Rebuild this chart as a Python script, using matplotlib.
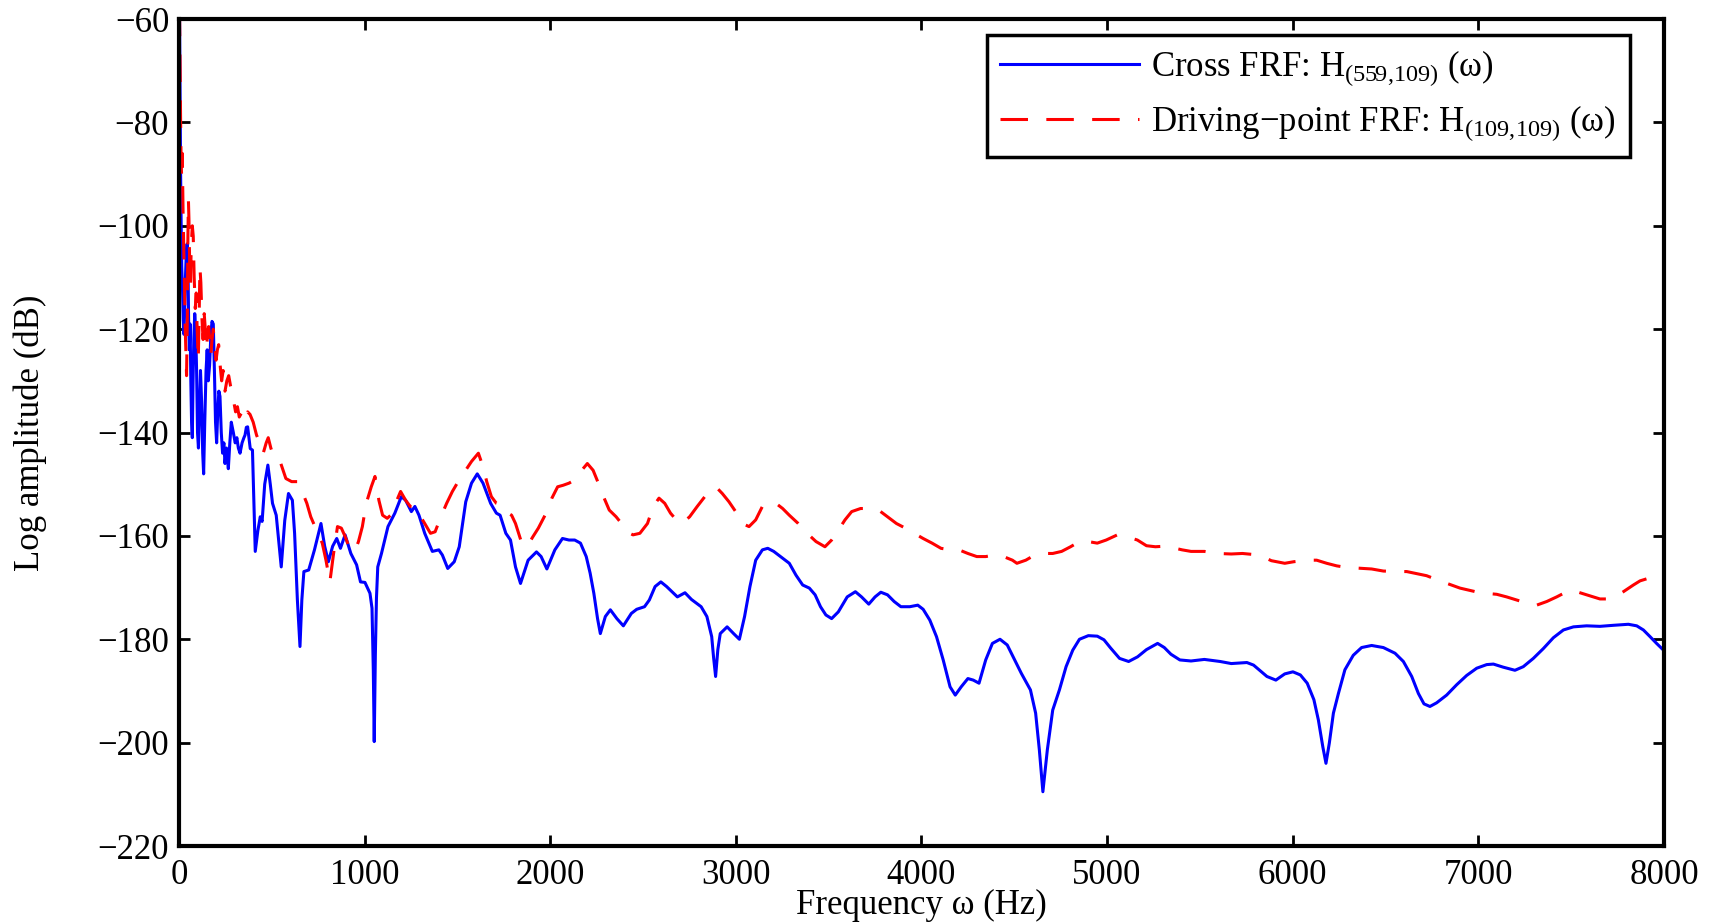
import numpy as np
import matplotlib
matplotlib.use("Agg")
import matplotlib.pyplot as plt

plt.rcParams['font.family'] = ['Liberation Serif', 'DejaVu Serif']
plt.rcParams['mathtext.fontset'] = 'custom'
plt.rcParams['mathtext.rm'] = 'Liberation Serif'
plt.rcParams['mathtext.it'] = 'Liberation Serif:italic'

# cross FRF H(559,109): frequency (Hz), log amplitude (dB)
cross_f = [3, 6, 9, 12, 15, 19, 23, 27, 31, 35, 40, 44, 48, 52, 56, 60, 64, 68, 72, 76,
           80, 85, 90, 95, 100, 105, 110, 116, 122, 128, 133, 139, 146, 152, 158, 165,
           172, 178, 185, 191, 197, 203, 209, 215, 221, 228, 235, 242, 248, 256, 266,
           274, 282, 293, 303, 312, 320, 329, 340, 350, 356, 363, 370, 384, 396, 411,
           425, 438, 448, 462, 479, 492, 504, 524,
           540, 551, 570, 590, 611, 623, 638, 652, 662, 673, 699, 730, 765, 785, 805, 828,
           850, 870, 895, 926, 957, 978, 1002, 1029, 1040, 1047, 1052, 1058, 1064, 1071,
           1091, 1126, 1163, 1198, 1221, 1252, 1271, 1293, 1324, 1365, 1400, 1419, 1448,
           1483, 1510, 1545, 1576, 1607, 1638, 1679, 1710, 1730, 1761, 1786, 1813, 1840,
           1881, 1926, 1951, 1982, 2025, 2066, 2101, 2132, 2163, 2194, 2215, 2235, 2255,
           2270, 2297, 2324, 2359, 2394, 2437, 2466, 2508, 2534, 2565, 2596, 2627, 2685,
           2726, 2761, 2813, 2844, 2870, 2880, 2891, 2903, 2916, 2953, 2988, 3019, 3047,
           3076, 3107, 3143, 3172, 3204, 3252, 3288, 3324, 3360, 3396, 3427, 3456, 3485,
           3516, 3552, 3600, 3644, 3677, 3716, 3750, 3781, 3817, 3853, 3889, 3937, 3980,
           4009, 4045, 4081, 4117, 4154, 4182, 4214, 4250, 4279, 4310, 4346, 4382, 4423,
           4462, 4502, 4538, 4587, 4615, 4635, 4654, 4678, 4707, 4743, 4779, 4815, 4851,
           4899, 4947, 4983, 5019, 5067, 5116, 5164, 5212, 5272, 5308, 5344, 5392, 5452,
           5524, 5609, 5669, 5753, 5789, 5825, 5861, 5909, 5957, 6001, 6041, 6078, 6114,
           6138, 6162, 6179, 6197, 6219, 6246, 6281, 6326, 6371, 6425, 6488, 6551, 6596,
           6641, 6677, 6707, 6739, 6775, 6829, 6883, 6937, 6991, 7045, 7081, 7134, 7197,
           7242, 7296, 7350, 7404, 7458, 7512, 7583, 7655, 7727, 7808, 7853, 7889, 7925,
           7960, 8000]
cross_db = [-58, -75, -90, -100, -108, -112, -118, -121, -116, -110, -105, -103.5, -106,
            -118, -124, -119, -130, -138, -141, -130, -122, -117, -120, -128, -140, -143,
            -136, -128, -134, -144, -148, -138, -128, -124, -130, -127, -121, -118.5, -119,
            -128, -138, -142, -136, -132, -133, -140, -144, -142, -146, -143, -147, -142,
            -138, -140, -142, -141, -143, -144, -142, -141, -140.5, -139, -138.9, -143.1,
            -143.4, -163.0, -159, -156.3, -157.2, -150, -146.3, -150, -153.7, -156.0,
            -162, -166.0, -157, -151.8, -153.1, -159.5, -172.4, -181.4, -172.4, -166.9,
            -166.6, -162.7, -157.6, -162, -165.0, -162, -160.5, -162.4, -159.8, -163.4,
            -165.6, -168.9, -169.0, -171.1, -174, -186, -199.8, -183, -172, -166.0, -163.4,
            -158.2, -155.6, -152.4, -153.1, -155.3, -154.3, -156.0, -159.5, -163.0, -162.7,
            -163.7, -166.3, -165.0, -162.1, -153.4, -149.8, -148.0, -149.8, -153.7, -155.6,
            -156.0, -159.5, -160.8, -166.0, -169.2, -164.7, -163.1, -164.0, -166.4, -162.7,
            -160.5, -160.8, -160.8, -161.4, -164.0, -167.2, -171.1, -176.0, -178.9, -175.6,
            -174.3, -176.0, -177.4, -175.0, -174.2, -173.7, -172.4, -169.8, -168.9, -169.8,
            -171.8, -171.0, -172.3, -173.7, -175.6, -179.5, -183.5, -187.2, -182, -178.9,
            -177.6, -178.9, -180.0, -175.6, -169.8, -164.7, -162.7, -162.4, -163.0, -164.3,
            -165.3, -167.6, -169.5, -170.1, -171.4, -173.7, -175.3, -176.0, -174.7, -171.8,
            -170.8, -171.8, -173.2, -171.8, -170.9, -171.4, -172.7, -173.7, -173.7, -173.4,
            -174.2, -176.3, -179.5, -184.0, -189.2, -190.8, -189.2, -187.6, -187.9, -188.5,
            -184.0, -180.8, -180.0, -181.1, -184.0, -186.6, -189.8, -194.3, -201.4, -209.5,
            -201.4, -193.7, -189.8, -185.3, -182.1, -180.0, -179.3, -179.4, -180.1, -181.7,
            -183.7, -184.3, -183.4, -182.0, -180.8, -181.6, -182.9, -184.0, -184.2, -183.9,
            -184.3, -184.7, -184.5, -185.0, -186.1, -187.2, -187.9, -186.7, -186.3, -186.9,
            -188.5, -191.7, -195.6, -200.8, -204.0, -200.1, -194.3, -190.5, -185.9, -183.1,
            -181.6, -181.2, -181.6, -182.7, -184.3, -187.2, -190.5, -192.5, -193.0, -192.3,
            -190.8, -188.8, -187.0, -185.6, -184.9, -184.8, -185.4, -186.0, -185.3, -183.7,
            -181.8, -179.7, -178.2, -177.6, -177.4, -177.5, -177.3, -177.1, -177.4, -178.2,
            -179.5, -180.8, -182.2]

# driving-point FRF H(109,109)
drive_f = [3, 6, 9, 12, 15, 18, 22, 26, 30, 34, 38, 41, 45, 48, 51, 54, 58, 62, 66, 72,
           77, 82, 88, 93, 98, 104, 109, 113, 118, 124, 130, 136, 142, 148, 154, 160, 166,
           172, 178, 185, 192, 200, 207, 214, 222, 230, 238, 248, 258, 268, 278, 286, 295,
           305, 315, 325, 340, 355, 370, 383, 400, 418, 435, 454, 470, 481, 495, 514,
           545, 576, 607, 638, 668, 689, 710, 741, 772,
           792, 813, 833, 854, 875, 895, 916, 947, 967, 988, 1009, 1036, 1056, 1077, 1097,
           1122, 1153, 1174, 1194, 1221, 1246, 1271, 1297, 1324, 1355, 1380, 1411, 1442,
           1473, 1504, 1539, 1576, 1613, 1638, 1658, 1683, 1710, 1736, 1761, 1792, 1813,
           1844, 1875, 1906, 1936, 1978, 2009, 2040, 2070, 2101, 2132, 2163, 2200, 2231,
           2256, 2287, 2318, 2355, 2384, 2411, 2446, 2483, 2524, 2555, 2586, 2617, 2648,
           2679, 2710, 2751, 2792, 2833, 2864, 2895, 2927, 2963, 2999, 3035, 3071, 3107,
           3143, 3180, 3216, 3252, 3288, 3336, 3384, 3432, 3480, 3516, 3552, 3588, 3624,
           3672, 3721, 3769, 3817, 3865, 3913, 3961, 4009, 4057, 4105, 4154, 4202, 4250,
           4298, 4346, 4394, 4442, 4490, 4514, 4562, 4610, 4659, 4707, 4755, 4803, 4851,
           4899, 4947, 4995, 5055, 5103, 5163, 5212, 5260, 5308, 5356, 5404, 5452, 5524,
           5596, 5669, 5729, 5789, 5837, 5885, 5957, 6005, 6078, 6129, 6183, 6237, 6290,
           6425, 6488, 6560, 6614, 6721, 6793, 6847, 6901, 7009, 7099, 7152, 7206, 7260,
           7314, 7368, 7422, 7476, 7503, 7547, 7601, 7655, 7700, 7745, 7781, 7835, 7871,
           7907, 7942, 7969, 8000]
drive_db = [-58, -70, -80, -88, -91, -86, -97, -104, -112, -120, -125, -129, -118, -103,
            -95, -99, -108, -112, -104, -100, -102, -110, -116, -113, -120, -126, -117,
            -108, -111, -118, -122, -117, -120, -124, -121, -119.5, -122, -125, -122, -120,
            -123, -126, -124, -123, -127, -130, -128, -132, -130, -129, -131, -132, -134,
            -136, -135, -137, -136, -137.5, -136, -136.5, -138, -140.5, -142, -144, -142,
            -141, -143, -145,
            -145.6, -148.9, -149.5, -149.5, -151.8, -153.7, -156.3, -158.9, -161.4,
            -164.7, -168.9, -163.4, -158.2, -158.5, -160.1, -162.1, -163.0, -161.1, -158.2,
            -153.7, -150.5, -148.5, -153.1, -156.0, -156.6, -155.6, -153.1, -151.4, -153.1,
            -154.3, -154.3, -156.0, -157.6, -159.5, -159.2, -156.3, -153.7, -151.4, -149.5,
            -147.6, -145.6, -144.0, -146.6, -149.5, -152.4, -153.7, -154.0, -155.3, -156.0,
            -157.6, -161.1, -162.1, -160.2, -158.5, -155.6, -152.7, -150.5, -150.2, -149.8,
            -149.2, -147.6, -146.0, -147.3, -149.5, -152.4, -155.0, -156.3, -157.6, -159.2,
            -159.8, -159.5, -157.6, -154.3, -152.7, -153.7, -155.6, -156.9, -157.6, -156.3,
            -154.3, -152.4, -151.1, -150.6, -151.8, -153.4, -155.3, -157.6, -158.2, -156.9,
            -154.3, -153.4, -153.7, -154.7, -156.0, -157.6, -159.5, -161.1, -162.1, -160.8,
            -158.9, -156.9, -155.3, -154.7, -154.7, -155.0, -156.3, -157.6, -158.5, -159.5,
            -160.5, -161.4, -162.4, -162.7, -162.7, -163.4, -164.0, -164.0, -163.7, -164.0,
            -164.7, -165.3, -164.7, -163.7, -163.4, -163.4, -163.0, -162.1, -161.1, -161.1,
            -161.4, -160.8, -159.8, -160.1, -160.8, -161.9, -162.1, -162.0, -162.3, -162.7,
            -163.0, -163.0, -163.4, -163.5, -163.4, -163.6, -164.0, -164.8, -165.3, -165.0,
            -164.7, -164.7, -165.3, -165.8, -166.1, -166.4, -166.8, -166.9, -166.9, -167.7,
            -168.7, -169.4, -170.1, -171.0, -171.3, -171.8, -172.4, -173.0, -173.4, -172.7,
            -171.8, -170.8, -170.5, -171.0, -171.6, -172.2, -172.2, -171.6, -170.8, -169.5,
            -168.7, -168.3, -168.1, -168.0, -168.0]

x_ticks = [0, 1000, 2000, 3000, 4000, 5000, 6000, 7000, 8000]
y_ticks = [-220, -200, -180, -160, -140, -120, -100, -80, -60]

fig = plt.figure(figsize=(17.24, 9.24), dpi=100)
ax = fig.add_axes([0.1038, 0.0844, 0.8614, 0.8950])

ax.plot(cross_f, cross_db, color='#0000ff', lw=2.2,
        label=r'Cross FRF: H$_{\mathrm{(559{,}109)}}$ (ω)')
ax.plot(drive_f, drive_db, color='#ff0000', lw=2.2, linestyle=(0, (9, 6)),
        label=r'Driving$-$point FRF: H$_{\mathrm{(109{,}109)}}$ (ω)')

ax.set_xlim(0, 8000)
ax.set_ylim(-220, -60)
ax.set_xticks(x_ticks)
ax.set_yticks(y_ticks)
ax.tick_params(direction='in', length=8, width=2, labelsize=25,
               top=True, right=True)
ax.tick_params(axis='x', pad=9)
ax.tick_params(axis='y', pad=7)
for s in ax.spines.values():
    s.set_linewidth(3)

ax.set_xlabel('Frequency ω (Hz)', fontsize=25)
ax.set_ylabel('Log amplitude (dB)', fontsize=25)
ax.xaxis.set_label_coords(0.5, -0.052)
ax.yaxis.set_label_coords(-0.089, 0.5)

leg = ax.legend(loc='upper right', bbox_to_anchor=(0.9771, 0.9807),
                borderaxespad=0, fontsize=25, fancybox=False, framealpha=1,
                edgecolor='black', handlelength=4.0, handletextpad=0.35,
                borderpad=0.4, labelspacing=0.45)
leg.get_frame().set_linewidth(2.5)

fig.savefig('out.png', dpi=100)
